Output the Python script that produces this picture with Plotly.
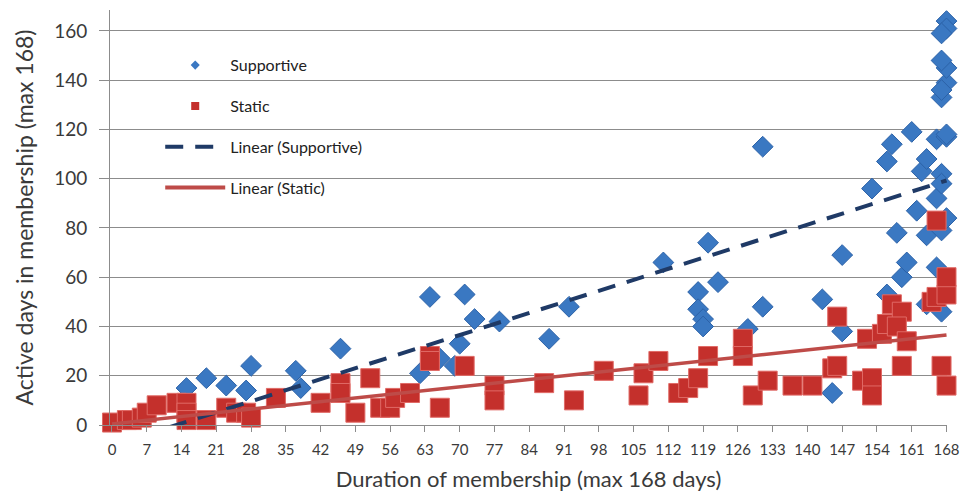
import numpy as np
import plotly.graph_objects as go

# Supportive members: duration of membership (days) vs. active days
sup_days = [15, 19, 23, 27, 28, 37, 38, 46, 62, 64, 66, 69, 70, 71, 73, 78, 88, 92,
            111, 118, 118, 119, 119, 120, 122, 128, 131, 131, 143, 145, 147, 147,
            153, 156, 156, 157, 158, 159, 160, 161, 162, 163, 164, 164, 164, 166,
            166, 166, 167, 167, 167, 167, 168, 168, 168, 167, 167, 168, 168, 167,
            168, 168, 167]
sup_active = [15, 19, 16, 14, 24, 22, 15, 31, 21, 52, 27, 24, 33, 53, 43, 42, 35, 48,
              66, 54, 47, 43, 40, 74, 58, 39, 48, 113, 51, 13, 69, 38,
              96, 53, 107, 114, 78, 60, 66, 119, 87, 103, 108, 77, 49, 64,
              92, 116, 46, 102, 98, 79, 84, 117, 139, 133, 136, 145, 164, 148,
              161, 118, 159]

# Static members
sta_days = [0, 3, 4, 6, 7, 9, 13, 15, 15, 15, 19, 23, 25, 27, 28, 33, 42, 46, 46,
            49, 52, 54, 56, 57, 60, 64, 64, 66, 71, 77, 77, 87, 93, 99, 106, 107,
            110, 114, 116, 118, 120, 127, 127, 129, 132, 137, 141, 145, 146, 146,
            151, 153, 153, 152, 155, 156, 157, 159, 158, 160, 159, 165, 166, 166,
            168, 168, 167, 168]
sta_active = [1, 2, 2, 3, 5, 8, 9, 9, 5, 2, 2, 7, 5, 5, 3, 11, 9, 17, 13,
              5, 19, 7, 7, 11, 13, 28, 26, 7, 24, 16, 10, 17, 10, 22, 12, 21,
              26, 13, 15, 19, 28, 35, 28, 12, 18, 16, 16, 23, 24, 44,
              18, 19, 12, 35, 37, 41, 49, 46, 40, 34, 24, 50, 52, 83,
              53, 60, 24, 16]

x_ticks = list(range(0, 169, 7))
y_ticks = list(range(0, 161, 20))

BLUE = "#3A78C2"
RED = "#C4302C"
NAVY = "#1F3A66"
TREND_RED = "#BE4B48"
FONT = "Lato"
TEXT = "#3A3A3A"
GRID = "#8C8C8C"


def linear_fit(xs, ys):
    slope, intercept = np.polyfit(np.asarray(xs, float), np.asarray(ys, float), 1)
    line_x = np.array([0.0, 168.0])
    return line_x, intercept + slope * line_x


sup_fit_x, sup_fit_y = linear_fit(sup_days, sup_active)
sta_fit_x, sta_fit_y = linear_fit(sta_days, sta_active)

fig = go.Figure()

fig.add_trace(go.Scatter(
    x=sup_days, y=sup_active, mode="markers", name="Supportive",
    showlegend=False, cliponaxis=False,
    marker=dict(symbol="diamond", size=16, color=BLUE,
                line=dict(color="#2C62A8", width=1)),
))
fig.add_trace(go.Scatter(
    x=sta_days, y=sta_active, mode="markers", name="Static",
    showlegend=False, cliponaxis=False,
    marker=dict(symbol="square", size=19, color=RED,
                line=dict(color="#E06A66", width=1)),
))
fig.add_trace(go.Scatter(
    x=sup_fit_x, y=sup_fit_y, mode="lines", name="Linear (Supportive)",
    showlegend=False, line=dict(color=NAVY, width=4, dash="18px,12px"),
))
fig.add_trace(go.Scatter(
    x=sta_fit_x, y=sta_fit_y, mode="lines", name="Linear (Static)",
    showlegend=False, line=dict(color=TREND_RED, width=3.5),
))

# legend entries with small symbols
legend_entries = [
    dict(name="Supportive", mode="markers",
         marker=dict(symbol="diamond", size=7, color=BLUE)),
    dict(name="Static", mode="markers",
         marker=dict(symbol="square", size=8, color=RED)),
    dict(name="Linear (Supportive)", mode="lines",
         line=dict(color=NAVY, width=4, dash="18px,12px")),
    dict(name="Linear (Static)", mode="lines",
         line=dict(color=TREND_RED, width=4)),
]
for i, entry in enumerate(legend_entries):
    fig.add_trace(go.Scatter(x=[None], y=[None], legendgroup=f"g{i}",
                             showlegend=True, **entry))

fig.update_layout(
    width=960, height=497,
    margin=dict(l=110, r=13, t=10, b=72),
    paper_bgcolor="white", plot_bgcolor="white",
    font=dict(family=FONT, color=TEXT),
    showlegend=True,
    legend=dict(
        x=0.06, y=0.908, xanchor="left", yanchor="top",
        bgcolor="rgba(0,0,0,0)", borderwidth=0,
        font=dict(family=FONT, size=16, color="#222222"),
        itemwidth=60, tracegroupgap=17, traceorder="grouped",
    ),
    shapes=[dict(type="rect", xref="paper", yref="paper",
                 x0=0.045, x1=0.332, y0=0.505, y1=0.915,
                 fillcolor="white", line=dict(width=0), layer="between")],
    xaxis=dict(
        range=[-0.4, 168.1], tickvals=x_ticks, ticktext=[str(v) for v in x_ticks],
        automargin=False,
        showgrid=False, zeroline=False,
        showline=True, linecolor=GRID, linewidth=1,
        ticks="outside", ticklen=6, tickcolor=GRID, ticklabelstandoff=5,
        tickfont=dict(family=FONT, size=15, color=TEXT),
        title=dict(text="Duration of membership (max 168 days)",
                   font=dict(family=FONT, size=22, color=TEXT), standoff=14),
    ),
    yaxis=dict(
        range=[0, 168.5], tickvals=y_ticks,
        automargin=False,
        showgrid=True, gridcolor=GRID, gridwidth=1, zeroline=False,
        showline=True, linecolor=GRID, linewidth=1,
        ticks="outside", ticklen=10, tickcolor=GRID, ticklabelstandoff=8,
        tickfont=dict(family=FONT, size=19, color=TEXT),
        title=dict(text="Active days in membership (max 168)",
                   font=dict(family=FONT, size=23, color=TEXT), standoff=14),
    ),
)

fig.write_html("out.html")
